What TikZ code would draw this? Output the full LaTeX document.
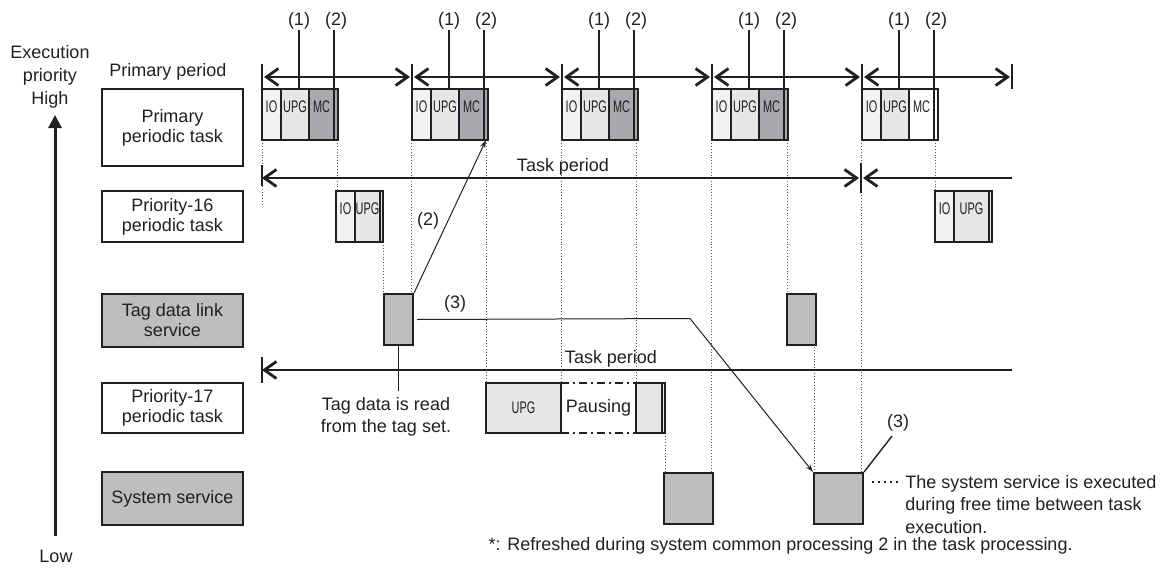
\documentclass[tikz,border=0pt]{standalone}
\usepackage{fontspec}
\setmainfont{Liberation Sans}
\usetikzlibrary{positioning,arrows.meta}

\definecolor{ink}{HTML}{231F20}
\definecolor{iofill}{HTML}{F1F2F2}
\definecolor{upgfill}{HTML}{E6E7E8}
\definecolor{mcfill}{HTML}{A7A9AC}
\definecolor{svcfill}{HTML}{BCBEC0}
\definecolor{dotgray}{HTML}{58595B}

% narrow letters used inside the run blocks
\newcommand{\cond}[1]{\scalebox{0.65}[1]{\fontsize{8.4}{9}\selectfont#1}}

\begin{document}
\begin{tikzpicture}[
  x=0.5pt, y=-0.5pt,
  font=\fontsize{9}{11}\selectfont, text=ink,
  >={Straight Barb[length=6pt,width=8.5pt]},
  lbl/.style={draw=ink, line width=1pt, minimum width=70.5pt, align=center,
              inner sep=0pt, font=\fontsize{9}{10}\selectfont},
  seg/.style={draw=ink, line width=1pt, inner sep=0pt, outer sep=0pt,
              text height=11.5pt, text depth=14pt, anchor=north west},
  runbox/.style={draw=ink, line width=1pt, inner sep=0pt, outer sep=0pt,
                 minimum height=25pt, anchor=north west},
  svc/.style={draw=ink, line width=1pt, fill=svcfill, inner sep=0pt,
              minimum height=25.5pt, anchor=north west},
  periodline/.style={draw=ink, line width=1.4pt},
  tickmark/.style={draw=ink, line width=0.8pt},
  guide/.style={draw=dotgray, line width=0.45pt, densely dotted},
  ptr/.style={draw=ink, line width=0.5pt},
  headed/.style={-{Stealth[length=4pt,width=2.6pt]}},
  numlbl/.style={inner sep=0.5pt, anchor=base},
  pausedge/.style={draw=ink, line width=1pt, dash pattern=on 4pt off 2pt on 1pt off 2pt},
  leaddots/.style={draw=ink, line width=0.8pt, dash pattern=on 0.8pt off 2.2pt}
]
\useasboundingbox (0,0) rectangle (1176,570);

% priority axis
\coordinate (lowp) at (55,536);
\coordinate (highp) at (55,115);
\draw[ink, line width=1.5pt, -{Triangle[length=6.5pt,width=6.5pt]}] (lowp) -- (highp);
\node[align=center, inner sep=0pt, font=\fontsize{9}{11.5}\selectfont] (prio) at (50,76.5) {Execution\\priority\\High};
\node[anchor=base, inner sep=0pt] (low) at (56,562) {Low};
\node[anchor=base, inner sep=0pt] (pper) at (168,76) {Primary period};

% task names
\node[lbl, minimum height=38.5pt] (prim) at (172.5,127.5) {Primary\\periodic task};
\node[lbl, minimum height=25.5pt] (p16) at (172.5,216.5) {Priority-16\\periodic task};
\node[lbl, minimum height=26.5pt, fill=svcfill] (tdl) at (172.5,320.5) {Tag data link\\service};
\node[lbl, minimum height=25pt] (p17) at (172.5,408) {Priority-17\\periodic task};
\node[lbl, minimum height=26.5pt, fill=svcfill] (sys) at (172.5,498.5) {System service};

% time guides
\foreach \gx/\ga/\gb in {262/140/205, 337/140/191, 383/242/293, 411/140/293,
    486/140/383, 561/140/383, 636/140/383, 665/433/472, 711/140/472,
    787/140/293, 814/344/472, 861/140/472, 935/140/191}
  \draw[guide] (\gx,\ga) -- (\gx,\gb);

% primary periodic task
\foreach \i/\mf in {0/mcfill,1/mcfill,2/mcfill,3/mcfill,4/white}{
  \pgfmathsetmacro{\s}{262+150*\i}
  \node[seg, fill=iofill, minimum width=9.5pt] (io\i) at (\s,89) {\cond{IO}};
  \node[seg, fill=upgfill, minimum width=14pt, right=0pt of io\i] (upg\i) {\cond{UPG}};
  \node[seg, fill=\mf, minimum width=12.5pt, right=0pt of upg\i] (mc\i) {\cond{MC}};
  \node[seg, fill=\mf, minimum width=2pt, right=0pt of mc\i] (st\i) {};
  \node[numlbl] (one\i) at (\s+37,25) {(1)};
  \node[numlbl] (two\i) at (\s+74,25) {(2)};
  \draw[ptr, line width=0.7pt] (one\i.south) -- (one\i.south |- upg\i.north);
  \draw[ptr, line width=0.7pt] (mc\i.north east) -- (mc\i.north east |- two\i.south);
}

% primary period
\foreach \k in {0,...,5}{
  \coordinate (pp\k) at (262+150*\k,77);
  \draw[tickmark] (262+150*\k,64) -- (262+150*\k,89);
}
\foreach \k/\n in {0/1,1/2,2/3,3/4,4/5}
  \draw[periodline, <->, shorten <=1pt, shorten >=1pt] (pp\k) -- (pp\n);

% task periods
\coordinate (ta) at (262,178);
\coordinate (tb) at (861,178);
\coordinate (tc) at (1012,178);
\draw[tickmark] (262,165) -- (262,186);
\draw[tickmark] (861,163) -- (861,193);
\draw[periodline, <->, shorten >=1pt] (ta) -- (tb);
\draw[periodline, <-, shorten <=1pt] (tb) -- (tc);
\node[anchor=base] (tper1) at (563,171) {Task period};

\coordinate (td) at (262,370);
\coordinate (te) at (1012,370);
\draw[tickmark] (262,357) -- (262,383);
\draw[periodline, <-] (td) -- (te);
\node[anchor=base] (tper2) at (611,363) {Task period};

% priority-16 periodic task
\node[seg, fill=iofill, minimum width=9.5pt] (aio0) at (336,191) {\cond{IO}};
\node[seg, fill=upgfill, minimum width=12.5pt, right=0pt of aio0] (aupg0) {\cond{UPG}};
\node[seg, fill=upgfill, minimum width=1.5pt, right=0pt of aupg0] (ast0) {};
\node[seg, fill=iofill, minimum width=9.5pt] (aio1) at (935,191) {\cond{IO}};
\node[seg, fill=upgfill, minimum width=17.5pt, right=0pt of aio1] (aupg1) {\cond{UPG}};
\node[seg, fill=upgfill, minimum width=1.5pt, right=0pt of aupg1] (ast1) {};

% tag data link service
\node[svc, minimum width=14.5pt] (tag0) at (383,293) {};
\node[svc, minimum width=14.5pt] (tag1) at (786,293) {};

% priority-17 periodic task
\node[runbox, fill=upgfill, minimum width=37.5pt] (bupg) at (486,383) {\cond{UPG}};
\node[inner sep=0pt, outer sep=0pt, minimum width=37.5pt, minimum height=25pt, right=0pt of bupg] (pause) {Pausing};
\node[runbox, fill=upgfill, minimum width=13pt, right=0pt of pause] (bres) {};
\node[runbox, fill=upgfill, minimum width=1.5pt, right=0pt of bres] (bst) {};
\draw[pausedge] (pause.north west) -- (pause.north east);
\draw[pausedge] (pause.south west) -- (pause.south east);

% system service
\node[svc, minimum width=24.5pt] (sys0) at (663,472) {};
\node[svc, minimum width=24.5pt] (sys1) at (813,472) {};

% (2) and (3)
\draw[ptr, headed] (tag0.north east) -- (st1.south);
\node[inner sep=0pt] (lbl2) at (428,221) {(2)};
\coordinate (bend) at (690,318.5);
\draw[ptr, headed, shorten <=1.5pt] (tag0.east) -- (bend) -- (sys1.north west);
\node[inner sep=0pt] (lbl3) at (455,304) {(3)};
\node[inner sep=0pt] (lbl3b) at (898,423) {(3)};
\coordinate (c3) at (892,436);
\draw[ptr, line width=0.7pt] (sys1.north east) -- (c3);

% notes
\node[anchor=north, align=center, inner sep=0pt] (readnote) at (386,397) {Tag data is read\\from the tag set.};
\draw[ptr, line width=0.7pt] (tag0.south) -- ([yshift=3pt]tag0.south |- readnote.north);
\node[anchor=north west, align=left, inner sep=0pt, font=\fontsize{9}{11.25}\selectfont] (sysnote) at (905,475)
  {The system service is executed\\during free time between task\\execution.};
\coordinate (lead) at (872,482);
\draw[leaddots, shorten >=1.5pt] (lead) -- (lead -| sysnote.west);
\node[anchor=base east, inner sep=0pt] (foot) at (1073,550) {*: Refreshed during system common processing 2 in the task processing.};
\end{tikzpicture}
\end{document}
